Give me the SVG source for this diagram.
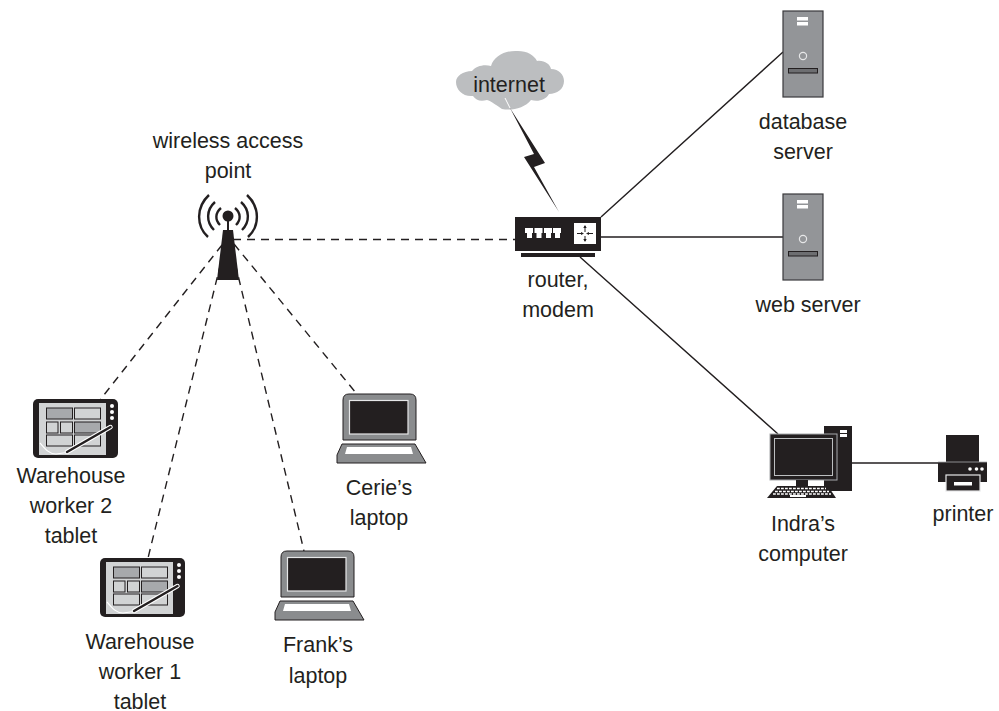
<svg xmlns="http://www.w3.org/2000/svg" xmlns:xlink="http://www.w3.org/1999/xlink" width="999" height="711" viewBox="0 0 999 711">
<style>
text{font-family:"Liberation Sans",Arial,sans-serif;font-size:21.5px;fill:#231f20;text-anchor:middle}
.k{fill:#231f20}
.w{fill:#fff}
.c{stroke:#231f20;stroke-width:1.4;fill:none}
.d{stroke-dasharray:8 6}
.g1{fill:#a7a9ac;stroke:#231f20;stroke-width:1}
.g2{fill:#d1d3d4;stroke:#231f20;stroke-width:1}
.srv{fill:#939598;stroke:#3a3a3c;stroke-width:1.2}
</style>
<defs>
<g id="server">
<rect class="srv" x="783" y="11" width="40" height="86"/>
<rect class="w" x="797" y="17" width="11" height="3.5"/>
<rect class="w" x="797" y="22" width="11" height="3.5"/>
<circle cx="803" cy="56" r="3.6" fill="none" stroke="#e6e7e8" stroke-width="1.2"/>
<rect x="788.500" y="68.500" width="29" height="4.500" fill="#6d6e71" stroke="#231f20" stroke-width="1"/>
</g>
<g id="tablet">
<rect class="k" x="33" y="399" width="85" height="59" rx="5"/>
<rect x="39" y="403" width="67" height="52" fill="#d1d3d4"/>
<rect class="g1" x="46.500" y="408" width="26" height="11"/>
<rect class="g2" x="74.500" y="408" width="26" height="11"/>
<rect class="g2" x="46.500" y="422" width="11.500" height="11"/>
<rect class="g2" x="60.500" y="422" width="12" height="11"/>
<rect class="g1" x="74.500" y="422" width="26" height="11"/>
<rect class="g2" x="46.500" y="435" width="26" height="11"/>
<rect class="g2" x="74.500" y="435" width="26" height="11"/>
<circle class="w" cx="112" cy="406" r="2"/>
<circle class="w" cx="112" cy="412" r="2"/>
<circle class="w" cx="112" cy="418" r="2"/>
<path d="M40 443C45 449 49 454 56 454L67 452.500" fill="none" stroke="#fff" stroke-width="1.200"/>
<path d="M110.500 427L67 452" stroke="#fff" stroke-width="4.500" stroke-linecap="round"/>
<path d="M110.500 427L67 452" stroke="#231f20" stroke-width="2.500" stroke-linecap="round"/>
</g>
<g id="laptop">
<path d="M343 440V400Q343 394 349 394H410Q416 394 416 400V440Z" fill="#8a8c8e" stroke="#231f20" stroke-width="1"/>
<rect x="349.500" y="400.500" width="58.500" height="33.500" fill="#231f20" stroke="#e6e7e8" stroke-width="1.200"/>
<path d="M342 444H415L426 463H337V455Z" fill="#8a8c8e" stroke="#231f20" stroke-width="1"/>
<path d="M347 447H411L413 454H345Z" fill="#fff"/>
</g>
</defs>

<g id="connectors">
<path class="c" d="M601 217L783 52M601 237H783M580 257L778 434M852 463H938"/>
<path class="c d" d="M233 239.500H515M222 245L100 400M224 250L148 558M232 250L304 551M234 244L356 393"/>
</g>

<g id="internet">
<path d="M472 71C476 66 484 64 491 66C494 56 506 50 518 51C527 51 534 55 537 61C544 60 550 64 551 69C559 69 564 75 564 81C564 89 557 94 549 94C546 100 538 102 531 100C525 108 512 111 502 109C496 105 491 101 487 100C480 102 476 100 473 96C463 97 456 90 456 82C456 76 463 71 472 71Z" fill="#bcbec0"/>
<text x="509" y="92">internet</text>
<path d="M505 98L510 108" stroke="#fff" stroke-width="1"/>
<path d="M510 108L545 163L534 167L559 212L524 157L534 154Z" class="k"/>
<path d="M562 218L568 227" stroke="#fff" stroke-width="1.200"/>
</g>

<g id="router">
<rect class="k" x="515" y="217" width="86" height="34"/>
<rect class="k" x="521" y="253" width="74" height="4"/>
<rect class="w" x="574" y="223" width="22" height="21"/>
<path d="M525 228H533V233H532V238H527V233H525ZM534.500 228H542.500V233H541.500V238H536.500V233H534.500ZM544 228H552V233H551V238H546V233H544ZM553 228H561V233H560V238H555V233H553Z" class="w"/>
<path d="M585 226V232M585 236V241M577 233.500H582M588 233.500H593" stroke="#231f20" stroke-width="1" fill="none"/>
<path d="M585 225L583.300 228H586.700ZM585 242L583.300 239H586.700ZM584 233.500L581 232V235ZM586 233.500L589 232V235Z" class="k"/>
<text x="558" y="287">router,</text>
<text x="558" y="317">modem</text>
</g>

<g id="wap">
<text x="228" y="148">wireless access</text>
<text x="228" y="178">point</text>
<path d="M223 230H233L239 280H217Z" class="k"/>
<rect class="k" x="227" y="216" width="2" height="15"/>
<circle class="k" cx="228" cy="216" r="5.500"/>
<g fill="none" stroke="#231f20" stroke-width="2.400">
<path d="M209 195C196 207 196 226 208 237M247 195C260 207 260 226 248 237"/>
<path d="M215 202C206 210 206 222 214 230M241 202C250 210 250 222 242 230"/>
<path d="M221 208C215 213 215 220 220 225M235 208C241 213 241 220 236 225"/>
</g>
</g>

<g id="db-server">
<use xlink:href="#server" href="#server"/>
<text x="803" y="129">database</text>
<text x="803" y="159">server</text>
</g>
<g id="web-server">
<use xlink:href="#server" href="#server" y="183"/>
<text x="808" y="312">web server</text>
</g>

<g id="computer">
<rect class="k" x="824" y="426" width="28" height="65"/>
<rect class="w" x="840" y="430" width="7" height="3"/>
<rect class="w" x="840" y="434" width="7" height="3"/>
<rect x="770" y="434" width="67" height="46" fill="#231f20" stroke="#a7a9ac" stroke-width="1"/>
<rect x="774.500" y="438.500" width="58" height="37" fill="#231f20" stroke="#bcbec0" stroke-width="1"/>
<rect class="k" x="796" y="480" width="12" height="6"/>
<path d="M777 486H828L836 498H767Z" class="k"/>
<path d="M777 488.500H826M775 491.500H829M773 494H831" stroke="#fff" stroke-width="1.600" stroke-dasharray="2.800 1.200" fill="none"/>
<rect class="w" x="790" y="495" width="16" height="2"/>
<text x="803" y="531">Indra’s</text>
<text x="803" y="561">computer</text>
</g>

<g id="printer">
<rect class="k" x="946" y="435" width="33" height="27"/>
<rect class="k" x="938" y="462" width="49" height="20"/>
<path d="M938 462H987" stroke="#a7a9ac" stroke-width=".8"/>
<rect x="946" y="475" width="34" height="16" fill="#231f20" stroke="#e6e7e8" stroke-width="1.200"/>
<rect class="w" x="954" y="482" width="18" height="3.500"/>
<circle class="w" cx="970" cy="469" r="1.800"/>
<circle class="w" cx="976.500" cy="469" r="1.800"/>
<circle class="w" cx="982" cy="469" r="1.800"/>
<text x="963" y="521">printer</text>
</g>

<g id="tablet-2">
<use xlink:href="#tablet" href="#tablet"/>
<text x="71" y="483">Warehouse</text>
<text x="71" y="513">worker 2</text>
<text x="71" y="543">tablet</text>
</g>
<g id="tablet-1">
<use xlink:href="#tablet" href="#tablet" x="67" y="159"/>
<text x="140" y="649">Warehouse</text>
<text x="140" y="679">worker 1</text>
<text x="140" y="709">tablet</text>
</g>
<g id="cerie-laptop">
<use xlink:href="#laptop" href="#laptop"/>
<text x="379" y="495">Cerie’s</text>
<text x="379" y="525">laptop</text>
</g>
<g id="frank-laptop">
<use xlink:href="#laptop" href="#laptop" x="-62" y="157"/>
<text x="318" y="652">Frank’s</text>
<text x="318" y="683">laptop</text>
</g>
</svg>
